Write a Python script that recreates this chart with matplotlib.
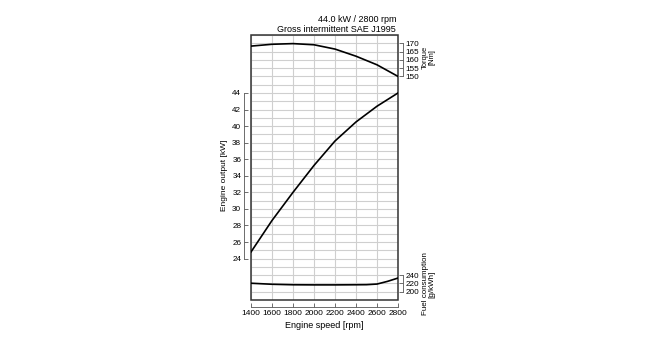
import matplotlib
matplotlib.use("Agg")
import matplotlib.pyplot as plt
from matplotlib.patches import Rectangle
import numpy as np

plt.rcParams['font.family'] = ['Liberation Sans', 'DejaVu Sans']

# Data
rpm = [1400, 1600, 1800, 2000, 2200, 2400, 2600, 2800]
output_kw = [24.8, 28.6, 32.0, 35.25, 38.2, 40.5, 42.4, 44.0]
torque_rpm = [1400, 1600, 1800, 2000, 2200, 2400, 2600, 2800]
torque_nm = [168.3, 169.4, 169.8, 169.1, 166.5, 162.2, 157.0, 150.0]
fuel_rpm = [1400, 1600, 1800, 2000, 2200, 2400, 2500, 2600, 2700, 2800]
fuel_gkwh = [220.5, 218.0, 216.8, 216.5, 216.5, 216.8, 217.0, 218.5, 225.0, 233.0]

x_ticks = [1400, 1600, 1800, 2000, 2200, 2400, 2600, 2800]
kw_ticks = [24, 26, 28, 30, 32, 34, 36, 38, 40, 42, 44]
torque_ticks = [150, 155, 160, 165, 170]
fuel_ticks = [200, 220, 240]

fs = 6.5
yfs = 5.9
xfs = 6.0
tc = '#555555'
fig = plt.figure(figsize=(6.5, 3.5), dpi=100)
ax = fig.add_axes([251/650, 1-300/350, 147/650, 265/350])
ax.set_xlim(1400, 2800)
ax.set_ylim(19, 51)
ax.patch.set_visible(False)

# grid
ax.set_xticks(x_ticks)
ax.set_yticks(kw_ticks)
ax.set_yticks(np.arange(19, 52, 1), minor=True)
ax.grid(which='both', axis='y', color='#cfcfcf', lw=0.8)
ax.grid(which='major', axis='x', color='#cfcfcf', lw=0.8)
ax.tick_params(which='minor', length=0)
ax.tick_params(axis='y', which='major', direction='in', length=3, labelsize=yfs, pad=2, width=0.6, color=tc)
ax.tick_params(axis='x', which='major', direction='in', length=3, labelsize=xfs, pad=2, width=0.6, color=tc)
ax.set_xticklabels([str(v) for v in x_ticks])

for s in ['top', 'right']:
    ax.spines[s].set_visible(False)
ax.spines['left'].set_position(('outward', 5))
ax.spines['left'].set_bounds(24, 44)
ax.spines['bottom'].set_position(('outward', 5))
ax.spines['bottom'].set_bounds(1400, 2800)
for s in ['left', 'bottom']:
    ax.spines[s].set_linewidth(0.6)
    ax.spines[s].set_color(tc)

ax.add_patch(Rectangle((0, 0), 1, 1, transform=ax.transAxes, fill=False,
                       ec='#333333', lw=1.1, clip_on=False, zorder=5))

ax.plot(rpm, output_kw, color='black', lw=1.2, zorder=6)

# torque axis
axt = ax.twinx()
axt.set_ylim(15, 175)
axt.set_yticks(torque_ticks)
for s in ['top', 'left', 'bottom']:
    axt.spines[s].set_visible(False)
axt.spines['right'].set_position(('outward', 3.6))
axt.spines['right'].set_bounds(150, 170)
axt.spines['right'].set_linewidth(0.6)
axt.spines['right'].set_color(tc)
axt.tick_params(axis='y', direction='in', length=3, labelsize=yfs, pad=2, width=0.6, color=tc)
axt.plot(torque_rpm, torque_nm, color='black', lw=1.2, zorder=6)

# fuel axis
axf = ax.twinx()
axf.set_ylim(180, 820)
axf.set_yticks(fuel_ticks)
for s in ['top', 'left', 'bottom']:
    axf.spines[s].set_visible(False)
axf.spines['right'].set_position(('outward', 3.6))
axf.spines['right'].set_bounds(200, 240)
axf.spines['right'].set_linewidth(0.6)
axf.spines['right'].set_color(tc)
axf.tick_params(axis='y', direction='in', length=3, labelsize=yfs, pad=2, width=0.6, color=tc)
axf.plot(fuel_rpm, fuel_gkwh, color='black', lw=1.2, zorder=6)

# texts
fig.text(396/650, 1-19/350, "44.0 kW / 2800 rpm", ha='right', va='center', fontsize=fs)
fig.text(396/650, 1-29/350, "Gross intermittent SAE J1995", ha='right', va='center', fontsize=fs)
fig.text(224/650, 1-175/350, "Engine output [kW]", rotation=90, ha='center', va='center', fontsize=6)
fig.text(428.5/650, 1-57/350, "Torque\n[Nm]", rotation=90, ha='center', va='center', fontsize=5.4,
         multialignment='center', linespacing=0.9)
fig.text(428.5/650, 1-284/350, "Fuel consumption\n[g/kWh]", rotation=90, ha='center', va='center', fontsize=5.8,
         multialignment='center', linespacing=0.9)
fig.text(324/650, 1-325/350, "Engine speed [rpm]", ha='center', va='center', fontsize=fs)

fig.savefig("out.png", dpi=100)
